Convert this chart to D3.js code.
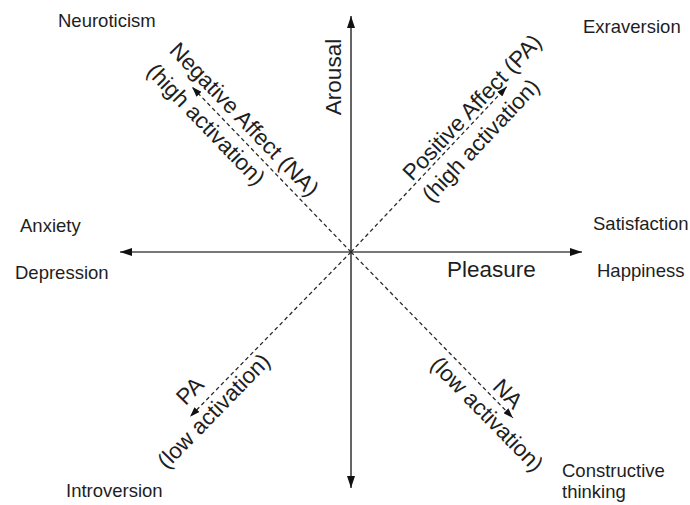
<!DOCTYPE html>
<html><head><meta charset="utf-8">
<script src="https://cdn.jsdelivr.net/npm/d3@7"></script>
<style>
body{margin:0;background:#fff}
svg{display:block}
text{font-family:"Liberation Sans",Arial,Helvetica,sans-serif;fill:#1e1e1e}
</style>
</head><body>
<svg id="c" width="690" height="505"></svg>
<script>
// ---- data ----
const axisNames = ["Pleasure", "Arousal"];
const axisMin = [-1, -1];
const axisMax = [1, 1];
const diagonalNames = ["Positive Affect (PA)", "Negative Affect (NA)", "PA", "NA"];
const diagonalSubs = ["(high activation)", "(high activation)", "(low activation)", "(low activation)"];
const diagonalX = [0.674, -0.688, -0.697, 0.701];
const diagonalY = [0.700, 0.699, -0.698, -0.703];
const traitLabels = ["Neuroticism", "Exraversion", "Anxiety", "Depression", "Satisfaction", "Happiness", "Introversion", "Constructive thinking"];

// ---- layout ----
const svg = d3.select("#c");
const x = d3.scaleLinear().domain([-1, 1]).range([120, 582]);
const y = d3.scaleLinear().domain([-1, 1]).range([488, 16]);
const cx = x(0), cy = y(0);
const bigFont = 22.5, smallFont = 18.5;

const defs = svg.append("defs");
defs.append("marker").attr("id", "axArrow").attr("viewBox", "0 0 12 8")
  .attr("refX", 12).attr("refY", 4).attr("markerWidth", 12).attr("markerHeight", 8)
  .attr("markerUnits", "userSpaceOnUse").attr("orient", "auto")
  .append("path").attr("d", "M0,0L12,4L0,8Z").attr("fill", "#111");
defs.append("marker").attr("id", "dArrow").attr("viewBox", "0 0 10 7")
  .attr("refX", 10).attr("refY", 3.5).attr("markerWidth", 10).attr("markerHeight", 7)
  .attr("markerUnits", "userSpaceOnUse").attr("orient", "auto")
  .append("path").attr("d", "M0,0L10,3.5L0,7Z").attr("fill", "#111");

// axes (double headed)
const axes = [
  {x1: axisMin[0], y1: 0, x2: axisMax[0], y2: 0},
  {x1: 0, y1: axisMin[1], x2: 0, y2: axisMax[1]}
];
axes.forEach(a => {
  [[a.x2, a.y2], [a.x1, a.y1]].forEach(([ex, ey]) => {
    svg.append("line")
      .attr("x1", x(0)).attr("y1", y(0)).attr("x2", x(ex)).attr("y2", y(ey))
      .attr("stroke", "#4a4a4a").attr("stroke-width", 1.7).attr("marker-end", "url(#axArrow)");
  });
});

// diagonals
const diag = diagonalX.map((dx, i) => ({x: dx, y: diagonalY[i], name: diagonalNames[i], sub: diagonalSubs[i]}));
svg.selectAll("line.diag").data(diag).join("line").attr("class", "diag")
  .attr("x1", cx).attr("y1", cy).attr("x2", d => x(d.x)).attr("y2", d => y(d.y))
  .attr("stroke", "#2a2a2a").attr("stroke-width", 1.3).attr("stroke-dasharray", "4,3")
  .attr("marker-end", "url(#dArrow)");

// diagonal labels: fraction along the line and perpendicular offsets
const diagLayout = [
  {tn: 0.83, on: 11, ts: 0.75, os: -18},
  {tn: 0.74, on: 15, ts: 0.84, os: -16},
  {tn: 0.92, on: 18, ts: 0.91, os: -13},
  {tn: 0.91, on: 13, ts: 0.91, os: -16}
];
diag.forEach((d, i) => {
  const ex = x(d.x), ey = y(d.y);
  const vx = ex - cx, vy = ey - cy;
  let ang = Math.atan2(vy, vx) * 180 / Math.PI;
  if (vx < 0) ang += 180;
  const th = ang * Math.PI / 180;
  const ux = Math.sin(th), uy = -Math.cos(th);
  const L = diagLayout[i];
  const place = (t, o, txt) => {
    const px = cx + vx * t + ux * o, py = cy + vy * t + uy * o;
    svg.append("text").attr("x", 0).attr("y", 0)
      .attr("transform", `translate(${px},${py}) rotate(${ang})`)
      .attr("text-anchor", "middle").attr("dominant-baseline", "central")
      .attr("font-size", bigFont).text(txt);
  };
  place(L.tn, L.on, d.name);
  place(L.ts, L.os, d.sub);
});

// axis names
svg.append("text").attr("x", 447).attr("y", 277).attr("font-size", bigFont).text(axisNames[0]);
svg.append("text").attr("transform", `translate(341,77) rotate(-90)`)
  .attr("text-anchor", "middle").attr("font-size", bigFont).text(axisNames[1]);

// trait labels
const traitPos = [[58, 27], [583, 33], [20, 232], [15, 279], [593, 230], [597, 277], [66, 497], [562, 477]];
traitLabels.forEach((t, i) => {
  const [px, py] = traitPos[i];
  const words = i === 7 ? t.split(" ") : [t];
  const el = svg.append("text").attr("x", px).attr("y", py).attr("font-size", smallFont);
  words.forEach((w, j) => el.append("tspan").attr("x", px).attr("dy", j ? 21 : 0).text(w));
});
</script>
</body></html>
